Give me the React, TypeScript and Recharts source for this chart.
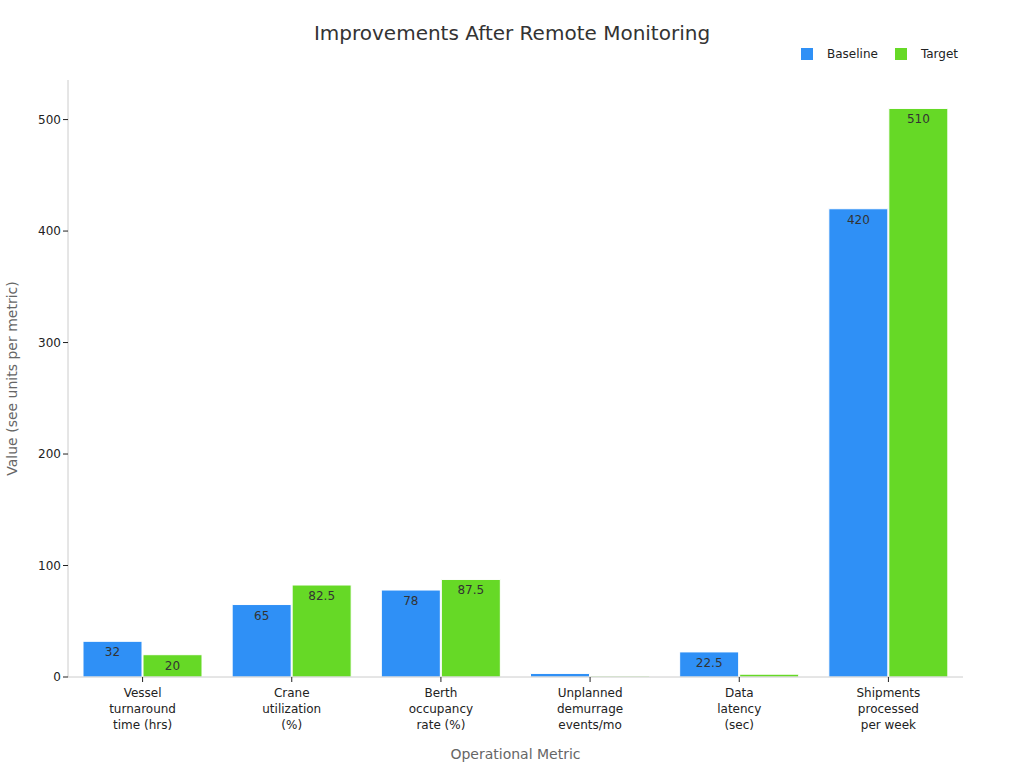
import { Bar, BarChart, LabelList, XAxis, YAxis } from 'recharts'

const categories = [
  'Vessel\nturnaround\ntime (hrs)',
  'Crane\nutilization\n(%)',
  'Berth\noccupancy\nrate (%)',
  'Unplanned\ndemurrage\nevents/mo',
  'Data\nlatency\n(sec)',
  'Shipments\nprocessed\nper week',
]
const baseline = [32, 65, 78, 3.2, 22.5, 420]
const target = [20, 82.5, 87.5, 0.8, 2.5, 510]
const yTicks = [0, 100, 200, 300, 400, 500]

const BLUE = '#2f90f6'
const GREEN = '#66d926'
const FONT = '"DejaVu Sans", Verdana, sans-serif'

const data = categories.map((name, i) => ({ name, baseline: baseline[i], target: target[i] }))

function MultiLineTick({ x, y, payload }: any) {
  const lines = String(payload.value).split('\n')
  return (
    <text x={x} y={y + 2} textAnchor="middle" fill="#222" fontSize={12} fontFamily={FONT}>
      {lines.map((line, i) => (
        <tspan key={i} x={x} dy={i === 0 ? 11 : 16}>
          {line}
        </tspan>
      ))}
    </text>
  )
}

function valueLabel(props: any) {
  const { x, y, width, value } = props
  if (value < 10) return null
  return (
    <text x={x + width / 2} y={y + 15} textAnchor="middle" fill="#333" fontSize={12} fontFamily={FONT}>
      {value}
    </text>
  )
}

export default function App() {
  return (
    <div style={{ position: 'absolute', left: 0, top: 0, width: 1024, height: 768, background: '#fff', fontFamily: FONT }}>
      <div style={{ position: 'absolute', top: 21, left: 0, width: 1024, textAlign: 'center', fontSize: 20, color: '#333' }}>
        Improvements After Remote Monitoring
      </div>
      <div style={{ position: 'absolute', top: 47, left: 801, display: 'flex', alignItems: 'center', fontSize: 12, color: '#222' }}>
        <span style={{ width: 12, height: 12, background: BLUE, display: 'inline-block' }} />
        <span style={{ marginLeft: 14 }}>Baseline</span>
        <span style={{ width: 12, height: 12, background: GREEN, display: 'inline-block', marginLeft: 17 }} />
        <span style={{ marginLeft: 14 }}>Target</span>
      </div>
      <BarChart
        width={1024}
        height={768}
        data={data}
        margin={{ top: 80, right: 61, left: 0, bottom: 0 }}
        barCategoryGap={15}
        barGap={1}
      >
        <XAxis
          dataKey="name"
          height={91}
          interval={0}
          tick={<MultiLineTick />}
          tickSize={5}
          axisLine={{ stroke: '#ccc' }}
          tickLine={{ stroke: '#222' }}
          label={{ value: 'Operational Metric', position: 'insideBottom', offset: 9, fill: '#666', fontSize: 14, fontFamily: FONT }}
        />
        <YAxis
          width={68}
          domain={[0, 535.5]}
          ticks={yTicks}
          tickSize={5}
          tick={{ fill: '#222', fontSize: 12, fontFamily: FONT }}
          axisLine={{ stroke: '#ccc' }}
          tickLine={{ stroke: '#222' }}
          label={{ value: 'Value (see units per metric)', angle: -90, position: 'insideLeft', offset: 12, fill: '#666', fontSize: 14, fontFamily: FONT, style: { textAnchor: 'middle' } }}
        />
        <Bar dataKey="baseline" name="Baseline" fill={BLUE} stroke="#fff" strokeWidth={1} isAnimationActive={false}>
          <LabelList dataKey="baseline" content={valueLabel} />
        </Bar>
        <Bar dataKey="target" name="Target" fill={GREEN} stroke="#fff" strokeWidth={1} isAnimationActive={false}>
          <LabelList dataKey="target" content={valueLabel} />
        </Bar>
      </BarChart>
    </div>
  )
}
